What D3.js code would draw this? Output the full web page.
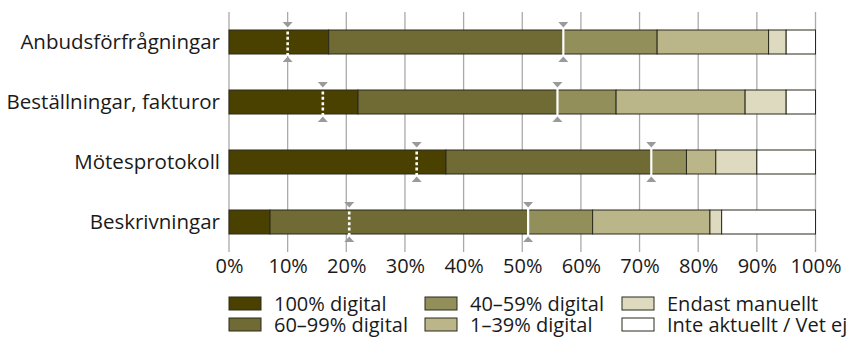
<!DOCTYPE html>
<html>
<head>
<meta charset="utf-8">
<script src="https://cdn.jsdelivr.net/npm/d3@7"></script>
<style>
  html, body { margin: 0; padding: 0; background: #fff; }
  svg { display: block; }
  text { font-family: "Open Sans", "Noto Sans", sans-serif; fill: #1a1a1a; }
</style>
</head>
<body>
<svg id="chart" width="849" height="338"></svg>
<script>
// Categories (top to bottom)
const categories = ["Anbudsförfrågningar", "Beställningar, fakturor", "Mötesprotokoll", "Beskrivningar"];

// Share of respondents (%) per digitalisation level
const seriesNames = ["100% digital", "60–99% digital", "40–59% digital", "1–39% digital", "Endast manuellt", "Inte aktuellt / Vet ej"];
const digital100 = [17, 22, 37, 7];
const digital60to99 = [40, 34, 35, 44];
const digital40to59 = [16, 10, 6, 11];
const digital1to39 = [19, 22, 5, 20];
const manualOnly = [3, 7, 7, 2];
const notApplicable = [5, 5, 10, 16];

// Marker positions (%) per category
const markerDotted = [10, 16, 32, 20.5];
const markerSolid = [57, 56, 72, 51];

const tickValues = [0, 10, 20, 30, 40, 50, 60, 70, 80, 90, 100];
const colors = ["#4a4000", "#706b34", "#938f5a", "#bab68a", "#dddac0", "#ffffff"];

const svg = d3.select("#chart");

const x = d3.scaleLinear().domain([0, 100]).range([229, 815.5]);
const y = d3.scaleBand().domain(categories).range([12, 252]).paddingInner(0.6).paddingOuter(0.3);

// Vertical grid lines
svg.append("g")
  .selectAll("line")
  .data(tickValues)
  .join("line")
  .attr("x1", d => x(d)).attr("x2", d => x(d))
  .attr("y1", 12).attr("y2", 252)
  .attr("stroke", "#aaaaaa")
  .attr("stroke-width", 1.3);

// Bottom axis labels
const xAxis = d3.axisBottom(x)
  .tickValues(tickValues)
  .tickFormat(d => d + "%")
  .tickSize(0)
  .tickPadding(0);
const gx = svg.append("g").attr("transform", "translate(0,252)").call(xAxis);
gx.select(".domain").remove();
gx.selectAll("text")
  .attr("dy", null)
  .attr("y", 21)
  .style("font-size", "20px")
  .style("font-family", "'Open Sans', sans-serif")
  .attr("fill", "#1a1a1a");

// Category labels
const yAxis = d3.axisLeft(y).tickSize(0).tickPadding(9);
const gy = svg.append("g").attr("transform", "translate(229,0)").call(yAxis);
gy.select(".domain").remove();
gy.selectAll("text")
  .style("font-size", "20.5px")
  .style("font-family", "'Open Sans', sans-serif")
  .attr("fill", "#1a1a1a");

// Stacked bars
const seriesValues = [digital100, digital60to99, digital40to59, digital1to39, manualOnly, notApplicable];
const rows = categories.map((c, i) => {
  const r = { category: c };
  seriesNames.forEach((s, j) => { r[s] = seriesValues[j][i]; });
  return r;
});
const stacked = d3.stack().keys(seriesNames)(rows);

svg.append("g")
  .selectAll("g")
  .data(stacked)
  .join("g")
  .attr("fill", (d, i) => colors[i])
  .selectAll("rect")
  .data(d => d)
  .join("rect")
  .attr("x", d => x(d[0]))
  .attr("y", d => y(d.data.category))
  .attr("width", d => x(d[1]) - x(d[0]))
  .attr("height", y.bandwidth())
  .attr("stroke", "#2a2a1c")
  .attr("stroke-width", 1);

// Markers: line across the bar with a grey triangle above and below
const markers = svg.append("g");
function drawMarkers(values, dashed) {
  const g = markers.append("g");
  values.forEach((v, i) => {
    const cx = x(v);
    const top = y(categories[i]);
    const bottom = top + y.bandwidth();
    g.append("line")
      .attr("x1", cx).attr("x2", cx)
      .attr("y1", top - 4).attr("y2", bottom + 3)
      .attr("stroke", "#ffffff")
      .attr("stroke-width", dashed ? 2.6 : 2.2)
      .attr("stroke-dasharray", dashed ? "3,2.4" : null);
    g.append("path")
      .attr("d", `M${cx - 5},${top - 8}L${cx + 5},${top - 8}L${cx},${top - 2.5}Z`)
      .attr("fill", "#9a9a9a");
    g.append("path")
      .attr("d", `M${cx - 5},${bottom + 8}L${cx + 5},${bottom + 8}L${cx},${bottom + 2.5}Z`)
      .attr("fill", "#9a9a9a");
  });
}
drawMarkers(markerDotted, true);
drawMarkers(markerSolid, false);

// Legend: three columns, two rows
const legendCols = [229, 425, 622];
const legendRows = [297, 318];
const legend = svg.append("g");
seriesNames.forEach((name, i) => {
  const col = Math.floor(i / 2), row = i % 2;
  const lx = legendCols[col], ly = legendRows[row];
  legend.append("rect")
    .attr("x", lx).attr("y", ly)
    .attr("width", 32).attr("height", 13)
    .attr("fill", colors[i])
    .attr("stroke", "#2a2a1c")
    .attr("stroke-width", 1);
  legend.append("text")
    .attr("x", lx + 45).attr("y", ly + 14)
    .style("font-size", "20px")
    .text(name);
});
</script>
</body>
</html>
